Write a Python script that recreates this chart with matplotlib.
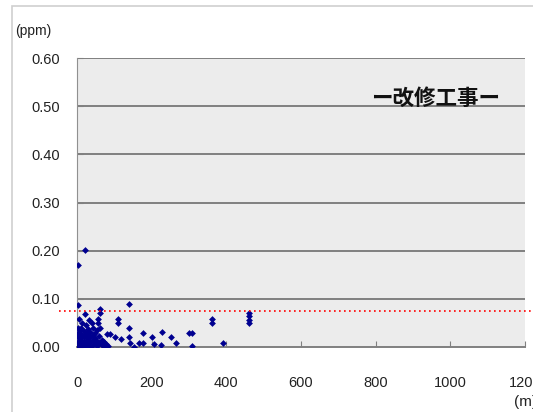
import matplotlib
matplotlib.use('Agg')
import matplotlib.pyplot as plt
from matplotlib.patches import Rectangle
from matplotlib.lines import Line2D

# distance from site (m) and measured concentration (ppm)
distance_m = [4, 21, 3, 138,
              62, 62, 21, 6, 13, 33, 39, 55, 55, 111, 111,
              362, 362, 462, 462, 462, 462,
              62, 80, 88, 102, 118, 138, 138, 142, 153, 165, 178, 178,
              200, 205, 227, 225, 252, 266, 299, 308, 308, 390,
              2, 2, 2, 2, 2, 8, 8, 8, 8,
              12, 12, 12, 12, 12, 18, 18, 18, 18,
              24, 24, 24, 24, 24, 30, 30, 30, 30,
              36, 36, 36, 36, 42, 42, 42, 42,
              48, 48, 48, 54, 54, 54, 60, 60, 66, 66, 72, 72, 78, 84]
conc_ppm = [0.171, 0.201, 0.088, 0.089,
            0.079, 0.070, 0.068, 0.059, 0.050, 0.056, 0.049, 0.059, 0.049, 0.059, 0.050,
            0.059, 0.049, 0.071, 0.064, 0.057, 0.049,
            0.039, 0.028, 0.028, 0.021, 0.016, 0.039, 0.020, 0.008, 0.001, 0.008, 0.008, 0.030,
            0.020, 0.007, 0.031, 0.004, 0.020, 0.008, 0.029, 0.029, 0.002, 0.008,
            0.040, 0.030, 0.020, 0.010, 0.003, 0.035, 0.025, 0.015, 0.005,
            0.040, 0.028, 0.018, 0.008, 0.001, 0.033, 0.022, 0.012, 0.004,
            0.045, 0.030, 0.020, 0.010, 0.002, 0.038, 0.026, 0.015, 0.006,
            0.032, 0.020, 0.010, 0.001, 0.040, 0.025, 0.014, 0.004,
            0.030, 0.018, 0.008, 0.035, 0.012, 0.003, 0.022, 0.008, 0.015, 0.004, 0.010, 0.002, 0.006, 0.002]

guide_ppm = 0.075
x_ticks = [0, 200, 400, 600, 800, 1000, 1200]
y_ticks = [0.0, 0.1, 0.2, 0.3, 0.4, 0.5, 0.6]
title = 'ー改修工事ー'

plt.rcParams['font.family'] = ['Liberation Sans', 'DejaVu Sans']

fig = plt.figure(figsize=(5.33, 4.12), dpi=100)
fig.patches.append(Rectangle((12 / 533, -0.1), 1.2, 1 - 6 / 412 + 0.1,
                             transform=fig.transFigure, fill=False,
                             edgecolor='#cfcfcf', linewidth=1.2))

ax = fig.add_axes([77 / 533, 1 - 347 / 412, 448 / 533, 289 / 412])
ax.set_facecolor('#ececec')
ax.set_xlim(0, 1200)
ax.set_ylim(0, 0.6)
ax.set_xticks(x_ticks)
ax.set_yticks(y_ticks)
ax.set_yticklabels(['%.2f' % v for v in y_ticks])
ax.tick_params(direction='in', length=4, color='#808080', labelsize=10.5,
               labelcolor='#222222', pad=12)
ax.tick_params(axis='x', pad=21)

for v in y_ticks[1:]:
    ax.axhline(v, color='#808080', linewidth=1.4, zorder=1)
for side in ['top', 'right']:
    ax.spines[side].set_visible(False)
ax.spines['left'].set_color('#909090')
ax.spines['bottom'].set_color('#808080')
ax.spines['bottom'].set_linewidth(1.4)

ax.scatter(distance_m, conc_ppm, marker='D', s=12, color='#000090',
           linewidths=0, zorder=3)

# guideline runs past the plot area
ax.add_line(Line2D([-0.04, 1.1], [guide_ppm, guide_ppm], transform=ax.get_yaxis_transform(),
                   color='red', linestyle=(0, (1, 2)), linewidth=1.2, clip_on=False, zorder=4))

ax.text(0.8, 0.86, title, transform=ax.transAxes, ha='center', va='center',
        fontsize=15.5, fontweight='bold', family=['Noto Sans CJK JP', 'DejaVu Sans'],
        color='#111111')

fig.text(15 / 533, 1 - 31 / 412, '(ppm)', fontsize=10, color='#222222', va='center')
fig.text(514 / 533, 1 - 402 / 412, '(m)', fontsize=11, color='#222222', va='center')

fig.savefig('out.png', dpi=100)
